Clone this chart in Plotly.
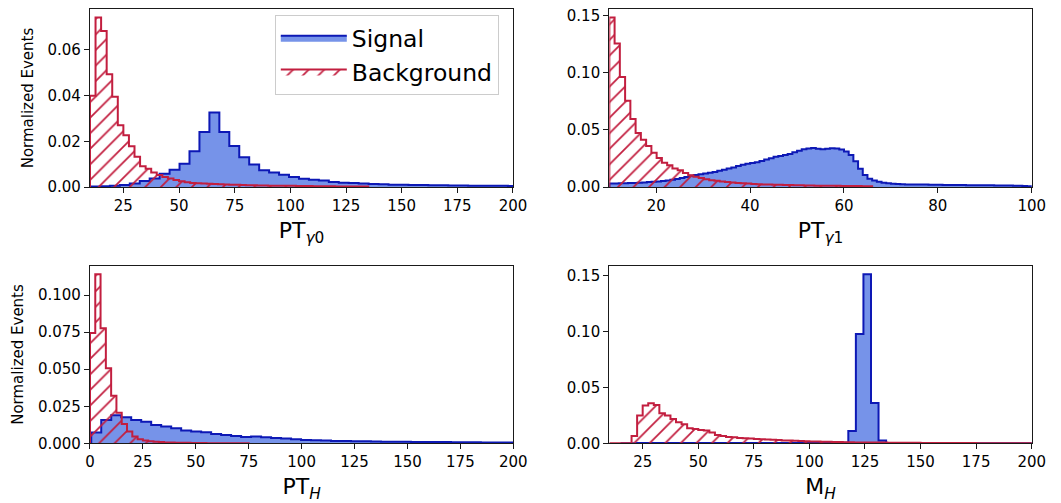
import numpy as np
import plotly.graph_objects as go

# ---------------- data (normalized histogram heights) ----------------
# Panel 1: PT_gamma0
pt0_sig_start, pt0_sig_width = 10.0, 4.47
pt0_sig = [0.0002, 0.0003, 0.0005, 0.0009, 0.0015, 0.0026, 0.0037, 0.0058, 0.0076, 0.0102,
           0.0157, 0.0241, 0.0326, 0.0241, 0.0179, 0.0130, 0.0099, 0.0073, 0.0063, 0.0054,
           0.0044, 0.0036, 0.0032, 0.0028, 0.0022, 0.0019, 0.0018, 0.0015, 0.0013, 0.0012,
           0.0010, 0.0010, 0.0009, 0.0009, 0.0008, 0.0008, 0.0007, 0.0007, 0.0006, 0.0006,
           0.0005, 0.0005, 0.0004]
pt0_bkg_start, pt0_bkg_width = 10.0, 2.5
pt0_bkg = [0.0399, 0.0742, 0.0683, 0.0494, 0.0395, 0.0270, 0.0227, 0.0178, 0.0132, 0.0091,
           0.0080, 0.0064, 0.0053, 0.0044, 0.0037, 0.0031, 0.0025, 0.0021, 0.0018, 0.0016,
           0.0015, 0.0014, 0.0013, 0.0012, 0.0011, 0.0010, 0.0010, 0.0009, 0.0008, 0.0008,
           0.0007, 0.0007, 0.0006, 0.0006, 0.0005, 0.0005, 0.0005, 0.0004, 0.0004, 0.0004,
           0.0003, 0.0003, 0.0003, 0.0003, 0.0002, 0.0002, 0.0002, 0.0002, 0.0002, 0.0002]

# Panel 2: PT_gamma1
pt1_sig_start, pt1_sig_width = 10.0, 1.0
pt1_sig = [0.0030, 0.0031, 0.0032, 0.0033, 0.0035, 0.0036, 0.0038, 0.0040, 0.0043, 0.0046,
           0.0049, 0.0053, 0.0058, 0.0064, 0.0071, 0.0079, 0.0088, 0.0098, 0.0106, 0.0112,
           0.0118, 0.0124, 0.0132, 0.0142, 0.0152, 0.0162, 0.0172, 0.0184, 0.0195, 0.0204,
           0.0210, 0.0216, 0.0228, 0.0240, 0.0252, 0.0264, 0.0272, 0.0280, 0.0290, 0.0304,
           0.0318, 0.0330, 0.0338, 0.0342, 0.0336, 0.0330, 0.0336, 0.0340, 0.0338, 0.0328,
           0.0310, 0.0280, 0.0225, 0.0160, 0.0105, 0.0072, 0.0056, 0.0045, 0.0038, 0.0034,
           0.0029, 0.0026, 0.0024, 0.0023, 0.0022, 0.0022, 0.0021, 0.0021, 0.0020, 0.0020,
           0.0019, 0.0018, 0.0018, 0.0018, 0.0017, 0.0017, 0.0016, 0.0016, 0.0016, 0.0015,
           0.0015, 0.0015, 0.0014, 0.0014, 0.0014, 0.0013, 0.0012, 0.0010, 0.0008, 0.0006]
pt1_bkg_start, pt1_bkg_width = 10.0, 1.12
pt1_bkg = [0.1485, 0.1256, 0.0964, 0.0755, 0.0595, 0.0473, 0.0415, 0.0360, 0.0300, 0.0254,
           0.0212, 0.0190, 0.0163, 0.0147, 0.0123, 0.0104, 0.0090, 0.0080, 0.0069, 0.0060,
           0.0054, 0.0048, 0.0043, 0.0039, 0.0035, 0.0032, 0.0030, 0.0027, 0.0025, 0.0023,
           0.0021, 0.0020, 0.0019, 0.0018, 0.0017, 0.0016, 0.0015, 0.0014, 0.0013, 0.0012,
           0.0012, 0.0011, 0.0010, 0.0010, 0.0009, 0.0009, 0.0008, 0.0008, 0.0007, 0.0007]

# Panel 3: PT_H
pth_sig_start, pth_sig_width = 0.6, 4.72
pth_sig = [0.0072, 0.0158, 0.0189, 0.0176, 0.0158, 0.0146, 0.0124, 0.0113, 0.0101, 0.0086,
           0.0079, 0.0074, 0.0063, 0.0056, 0.0050, 0.0043, 0.0045, 0.0041, 0.0036, 0.0032,
           0.0027, 0.0023, 0.0020, 0.0018, 0.0016, 0.0015, 0.0014, 0.0013, 0.0012, 0.0011,
           0.0010, 0.0010, 0.0009, 0.0009, 0.0008, 0.0008, 0.0007, 0.0007, 0.0007, 0.0006,
           0.0006, 0.0006, 0.0005]
pth_bkg_start, pth_bkg_width = 0.0, 2.5
pth_bkg = [0.0745, 0.1142, 0.0776, 0.0506, 0.0321, 0.0207, 0.0130, 0.0079, 0.0045, 0.0027,
           0.0018, 0.0013, 0.0010, 0.0008, 0.0006, 0.0005, 0.0004, 0.0003, 0.0003, 0.0002,
           0.0002, 0.0002, 0.0001, 0.0001, 0.0001, 0.0001, 0.0001, 0.0001, 0.0001, 0.0001]

# Panel 4: M_H
mh_sig_start, mh_sig_width = 15.5, 3.4
mh_sig = [0.0001, 0.0001, 0.0002, 0.0002, 0.0002, 0.0002, 0.0002, 0.0002, 0.0002, 0.0002,
          0.0002, 0.0002, 0.0002, 0.0002, 0.0002, 0.0002, 0.0002, 0.0002, 0.0002, 0.0002,
          0.0002, 0.0002, 0.0002, 0.0002, 0.0002, 0.0003, 0.0003, 0.0003, 0.0003, 0.0004,
          0.0111, 0.0980, 0.1516, 0.0362, 0.0024, 0.0002, 0.0001, 0.0001, 0.0001, 0.0001,
          0.0001, 0.0001, 0.0001, 0.0001, 0.0001, 0.0001, 0.0001, 0.0001, 0.0001, 0.0001,
          0.0001, 0.0001, 0.0001, 0.0001, 0.0001]
mh_bkg_start, mh_bkg_width = 10.0, 2.5
mh_bkg = [0.0, 0.0, 0.0, 0.0,
          0.0066, 0.0248, 0.0338, 0.0359, 0.0344, 0.0269, 0.0248, 0.0218, 0.0188, 0.0170,
          0.0135, 0.0129, 0.0120, 0.0114, 0.0096, 0.0075, 0.0066, 0.0057, 0.0054, 0.0048,
          0.0045, 0.0042, 0.0039, 0.0036, 0.0033, 0.0031, 0.0029, 0.0026, 0.0024, 0.0022,
          0.0020, 0.0018, 0.0016, 0.0015, 0.0014, 0.0013, 0.0012, 0.0011, 0.0010, 0.0009,
          0.0008, 0.0008, 0.0007, 0.0007, 0.0006, 0.0006, 0.0005, 0.0005, 0.0005, 0.0004,
          0.0004, 0.0004, 0.0003, 0.0003, 0.0003, 0.0003, 0.0002, 0.0002, 0.0002, 0.0002,
          0.0002, 0.0002, 0.0001, 0.0001, 0.0001, 0.0001, 0.0001, 0.0001, 0.0001, 0.0001,
          0.0001, 0.0001]

x_titles = ["PT<sub><i>γ</i>0</sub>", "PT<sub><i>γ</i>1</sub>", "PT<sub><i>H</i></sub>", "M<sub><i>H</i></sub>"]
y_title = "Normalized Events"
series_names = ["Signal", "Background"]

# ---------------- styling ----------------
SIG_FILL = "rgba(65,105,225,0.72)"
SIG_LINE = "#0d18b5"
BKG_LINE = "#c21e3f"
FONT = "DejaVu Sans"

panels = [
    dict(sig=(pt0_sig_start, pt0_sig_width, pt0_sig), bkg=(pt0_bkg_start, pt0_bkg_width, pt0_bkg),
         xr=[10, 200], dtick_x=25, dtick_y=0.02, yfmt=".2f",
         xd=[0.0848, 0.4835], yd=[0.6282, 0.9821]),
    dict(sig=(pt1_sig_start, pt1_sig_width, pt1_sig), bkg=(pt1_bkg_start, pt1_bkg_width, pt1_bkg),
         xr=[10, 100], dtick_x=20, dtick_y=0.05, yfmt=".2f",
         xd=[0.5743, 0.9724], yd=[0.6282, 0.9821]),
    dict(sig=(pth_sig_start, pth_sig_width, pth_sig), bkg=(pth_bkg_start, pth_bkg_width, pth_bkg),
         xr=[0, 200], dtick_x=25, dtick_y=0.025, yfmt=".3f",
         xd=[0.0848, 0.4838], yd=[0.1187, 0.4718]),
    dict(sig=(mh_sig_start, mh_sig_width, mh_sig), bkg=(mh_bkg_start, mh_bkg_width, mh_bkg),
         xr=[10, 200], dtick_x=25, dtick_y=0.05, yfmt=".2f",
         xd=[0.5743, 0.9724], yd=[0.1187, 0.4718]),
]


def step_xy(start, width, vals):
    e = start + width * np.arange(len(vals) + 1)
    x = [e[0]] + list(e[:-1]) + [e[-1], e[-1]]
    y = [0.0] + list(vals) + [vals[-1], 0.0]
    return x, y


fig = go.Figure()
layout = {}
for i, p in enumerate(panels):
    n = "" if i == 0 else str(i + 1)
    xa, ya = "x" + n, "y" + n
    sx, sy = step_xy(*p["sig"])
    bx, by = step_xy(*p["bkg"])
    fig.add_trace(go.Scatter(
        x=sx, y=sy, mode="lines", name=series_names[0], showlegend=(i == 0),
        line=dict(shape="hv", color=SIG_LINE, width=2),
        fill="tozeroy", fillcolor=SIG_FILL, xaxis=xa, yaxis=ya, hoverinfo="skip"))
    fig.add_trace(go.Scatter(
        x=bx, y=by, mode="lines", name=series_names[1], showlegend=(i == 0),
        line=dict(shape="hv", color=BKG_LINE, width=2),
        fill="tozeroy", fillcolor="rgba(0,0,0,0)",
        fillpattern=dict(shape="/", fgcolor=BKG_LINE, fgopacity=1, size=11, solidity=0.16,
                         fillmode="overlay"),
        xaxis=xa, yaxis=ya, hoverinfo="skip"))
    ymax = max(max(p["sig"][2]), max(p["bkg"][2])) * 1.05
    axis_common = dict(showline=True, mirror=True, linecolor="#1a1a1a", linewidth=1.2,
                       ticks="outside", ticklen=5, tickwidth=1.2, tickcolor="#1a1a1a",
                       showgrid=False, zeroline=False, automargin=False,
                       tickfont=dict(family=FONT, size=15, color="black"))
    layout["xaxis" + n] = dict(axis_common, domain=p["xd"], range=p["xr"], anchor=ya,
                               tick0=0, dtick=p["dtick_x"],
                               title=dict(text=x_titles[i], font=dict(family=FONT, size=22, color="black"),
                                          standoff=8))
    ydict = dict(axis_common, domain=p["yd"], range=[0, ymax], anchor=xa,
                 tick0=0, dtick=p["dtick_y"], tickformat=p["yfmt"])
    if i % 2 == 0:
        ydict["title"] = dict(text=y_title, font=dict(family=FONT, size=15, color="black"), standoff=10)
    layout["yaxis" + n] = ydict

fig.update_layout(**layout)
fig.update_layout(
    width=1061, height=503,
    margin=dict(l=0, r=0, t=0, b=0),
    paper_bgcolor="white", plot_bgcolor="white",
    font=dict(family=FONT, color="black"),
    legend=dict(x=0.259, y=0.97, xanchor="left", yanchor="top",
                bgcolor="rgba(255,255,255,0.85)", bordercolor="#cccccc", borderwidth=1,
                font=dict(family=FONT, size=23.5, color="black"), itemwidth=66,
                tracegroupgap=4),
)

fig.write_html("out.html")
